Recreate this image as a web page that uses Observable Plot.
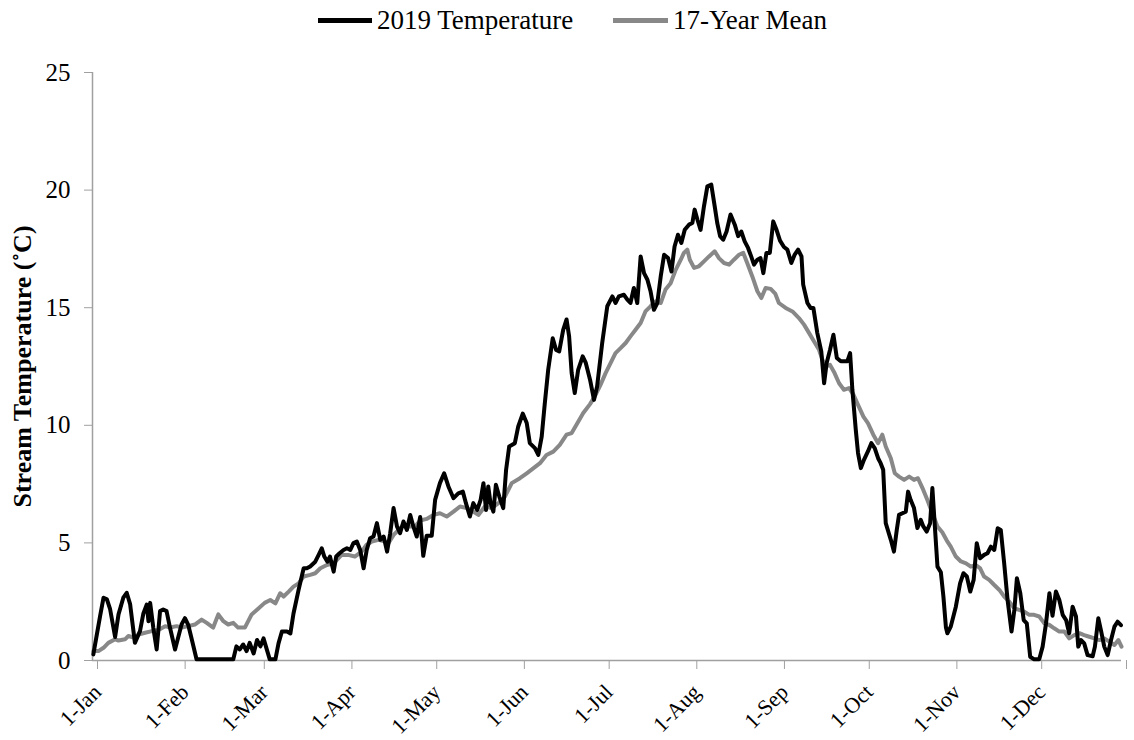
<!DOCTYPE html>
<html><head><meta charset="utf-8">
<script src="https://cdn.jsdelivr.net/npm/d3@7"></script>
<script src="https://cdn.jsdelivr.net/npm/@observablehq/plot@0.6"></script>
<style>
body{margin:0;background:#fff;font-family:"Liberation Serif","Times New Roman",serif;}
#legend{position:relative;height:40px;width:1134px;}
.item{position:absolute;top:0;height:40px;display:flex;align-items:center;font-size:27px;color:#000;white-space:nowrap;}
.sw{display:inline-block;height:5px;margin-right:5px;}
</style></head><body>
<div id="legend"></div>
<div id="chart"></div>
<script>
// x positions: day of year 2019, 0 = 1-Jan
const monthStarts = [0, 31, 59, 90, 120, 151, 181, 212, 243, 273, 304, 334, 364];
const monthLabels = ["1-Jan","1-Feb","1-Mar","1-Apr","1-May","1-Jun","1-Jul","1-Aug","1-Sep","1-Oct","1-Nov","1-Dec",""];
const yTicks = [0, 5, 10, 15, 20, 25];
const seriesNames = ["2019 Temperature", "17-Year Mean"];

const tempDays = [0.3,2.7,3.9,5.1,6.2,8.0,9.2,10.9,12.1,13.3,15.0,16.8,18.0,19.2,19.8,20.4,21.5,22.7,23.9,25.0,26.2,27.4,29.2,31.5,32.7,33.9,35.0,36.8,49.8,50.9,52.1,53.3,54.5,55.6,57.0,58.2,59.4,60.5,61.7,62.7,64.7,65.8,67.0,68.8,70.0,71.1,72.9,74.7,75.8,77.0,78.8,80.0,81.1,82.0,83.1,84.0,85.3,86.2,87.4,88.8,90.0,91.2,92.3,93.5,94.7,95.9,97.0,98.2,99.4,100.6,101.8,103.0,104.2,105.3,106.5,107.7,108.8,110.0,111.2,112.4,113.5,114.7,115.9,117.0,118.2,120.0,121.2,122.9,124.4,125.9,127.7,129.4,131.0,132.1,133.5,134.7,136.1,137.3,138.3,139.2,140.0,140.8,141.8,142.7,143.9,145.3,146.3,147.4,149.4,150.6,152.2,153.6,154.7,156.5,157.7,158.9,160.0,161.2,162.8,164.0,165.1,166.5,167.7,168.6,169.5,170.6,171.8,173.4,174.5,176.0,177.4,178.5,180.3,182.1,183.9,185.0,186.2,188.0,189.2,190.3,191.5,192.7,193.9,195.1,196.3,197.4,198.6,199.8,201.0,202.2,203.6,204.8,205.9,207.1,208.3,209.5,211.0,212.2,213.0,214.0,215.1,216.3,217.5,218.9,220.1,221.0,222.0,223.1,224.3,225.7,227.2,228.4,229.5,230.7,231.9,233.0,234.0,235.2,236.3,237.3,238.4,239.6,240.8,242.0,243.2,244.6,245.8,247.2,248.4,249.6,250.8,251.4,252.9,254.0,255.0,256.4,257.8,258.8,259.7,260.9,262.1,263.3,264.7,266.1,267.0,268.0,268.8,270.0,270.8,271.8,272.9,274.3,275.5,276.7,277.9,278.8,279.7,280.6,282.4,283.5,284.5,285.3,286.5,287.7,288.5,289.4,290.6,291.8,293.0,293.9,295.1,296.3,297.1,297.9,298.9,300.1,301.0,301.9,302.4,303.6,305.4,306.9,308.1,309.3,310.5,311.7,312.8,314.0,315.4,316.6,317.8,319.0,320.2,321.3,322.5,323.7,325.1,326.1,327.0,328.2,329.4,330.5,331.7,333.1,334.9,336.1,337.3,338.5,339.6,340.8,342.0,343.2,344.4,345.5,346.7,347.9,348.7,349.7,350.8,352.0,353.8,354.6,355.8,356.7,357.9,359.1,360.3,361.5,362.6,363.8];
const tempValues = [0.26,1.9,2.67,2.6,2.2,1.0,1.96,2.67,2.88,2.4,0.75,1.25,2.0,2.38,1.67,2.45,1.4,0.47,2.1,2.17,2.1,1.4,0.47,1.53,1.8,1.5,0.96,0.05,0.05,0.6,0.47,0.68,0.4,0.75,0.3,0.87,0.6,0.94,0.45,0.05,0.05,0.73,1.23,1.23,1.15,2.0,3.0,3.92,3.92,4.0,4.2,4.49,4.77,4.42,4.2,4.42,3.78,4.42,4.56,4.7,4.77,4.7,4.99,5.06,4.7,3.92,4.7,5.2,5.27,5.84,5.13,5.27,4.63,5.41,6.48,5.7,5.41,5.91,5.55,6.19,5.7,5.27,6.1,4.45,5.3,5.3,6.83,7.54,7.96,7.4,6.9,7.11,7.18,6.69,6.12,6.69,6.4,6.83,7.54,6.4,7.4,6.69,6.33,7.47,6.97,6.48,8.1,9.1,9.24,9.95,10.5,10.1,9.24,9.03,8.74,9.52,10.94,12.36,13.7,13.2,13.14,14.06,14.5,13.78,12.22,11.37,12.36,12.93,12.65,11.94,11.08,11.65,13.5,15.06,15.48,15.2,15.48,15.55,15.34,15.2,15.84,15.2,17.18,16.47,16.19,15.7,14.91,15.2,16.33,17.25,17.11,16.54,17.6,18.1,17.75,18.31,18.53,18.6,19.17,18.74,18.31,19.31,20.16,20.23,19.31,18.6,18.04,17.89,18.24,18.96,18.53,18.04,18.24,17.82,17.54,17.18,16.83,17.04,17.11,16.47,17.33,17.33,18.67,18.3,17.85,17.58,17.47,16.9,17.26,17.47,17.18,15.98,15.2,14.99,14.99,13.92,13.14,11.79,12.65,13.21,13.85,12.86,12.72,12.72,12.72,13.07,11.51,9.81,8.82,8.18,8.53,8.89,9.24,9.03,8.6,8.39,8.11,5.84,5.13,4.63,5.55,6.19,6.26,6.33,7.18,6.83,6.48,5.63,5.98,5.7,5.48,5.84,7.33,5.84,3.99,3.75,2.72,1.4,1.16,1.44,2.29,3.28,3.71,3.57,2.93,3.43,4.99,4.35,4.49,4.56,4.84,4.7,5.62,5.55,4.13,2.57,1.23,2.15,3.5,2.86,1.72,1.58,0.16,0.05,0.05,0.59,1.58,2.86,1.9,2.93,2.57,1.94,1.72,1.16,2.29,1.87,0.59,0.87,0.73,0.23,0.18,0.59,1.8,1.3,0.59,0.23,0.87,1.44,1.65,1.5];

const meanDays = [0.3,2.1,3.9,5.6,8.0,9.2,11.5,12.7,14.5,16.3,18.6,21.0,23.3,25.7,27.4,29.8,31.5,33.9,36.2,38.6,40.4,42.7,44.5,46.3,48.0,49.8,51.5,53.9,56.3,58.6,60.9,62.9,64.7,66.4,67.6,69.4,71.1,72.9,74.7,77.0,78.8,80.6,82.9,85.3,88.1,90.4,92.8,95.2,96.9,98.8,101.2,103.5,104.7,106.5,108.3,110.0,111.8,114.1,115.9,118.2,120.6,122.9,125.3,127.7,130.0,132.4,134.7,136.5,138.8,141.2,143.6,145.9,148.3,151.2,153.6,155.9,158.3,160.6,163.0,165.3,167.7,169.5,171.2,173.6,176.0,178.0,179.7,181.5,183.3,185.0,186.8,188.6,190.3,192.1,193.9,195.6,197.4,199.2,201.0,202.7,204.5,206.3,208.1,209.2,210.4,211.3,212.8,214.5,216.3,218.1,220.1,221.6,223.4,225.2,226.9,228.7,230.2,231.6,233.4,235.2,236.6,238.1,239.9,241.5,242.8,245.2,247.6,249.9,251.7,253.5,255.2,257.0,258.2,259.4,260.9,262.5,264.1,265.8,267.6,269.2,270.8,272.7,274.3,276.2,277.9,279.4,280.6,282.4,283.8,285.3,287.1,288.9,290.6,292.0,293.6,295.3,297.1,298.9,300.6,302.2,303.6,305.4,307.2,309.0,310.7,312.5,314.0,315.4,317.2,319.0,320.8,322.5,324.3,326.1,327.8,329.6,331.4,333.1,334.9,336.7,338.5,340.2,342.0,343.8,345.5,347.3,349.1,350.8,352.6,354.4,356.2,357.9,359.7,361.5,362.9,364.0];
const meanValues = [0.4,0.4,0.54,0.75,0.9,0.85,0.9,1.04,0.98,1.1,1.18,1.25,1.3,1.46,1.4,1.46,1.4,1.46,1.53,1.74,1.6,1.4,1.96,1.67,1.53,1.6,1.4,1.4,1.96,2.2,2.45,2.57,2.43,2.86,2.72,2.93,3.14,3.28,3.57,3.64,3.71,3.92,4.06,4.13,4.49,4.49,4.42,4.63,4.91,5.06,5.13,5.06,4.99,5.34,5.55,5.77,5.7,5.7,5.95,6.02,6.19,6.26,6.12,6.33,6.55,6.48,6.33,6.19,6.55,6.48,6.69,6.97,7.54,7.75,7.96,8.17,8.39,8.74,8.88,9.17,9.6,9.67,10.02,10.52,10.9,11.3,11.72,12.22,12.65,13.07,13.28,13.5,13.78,14.06,14.35,14.84,15.06,15.27,15.2,15.77,16.04,16.61,17.04,17.33,17.47,17.04,16.69,16.76,16.97,17.18,17.4,17.11,16.9,16.83,17.04,17.25,17.33,16.9,16.33,15.7,15.41,15.84,15.8,15.6,15.2,14.99,14.84,14.56,14.28,13.92,13.57,13.21,12.79,12.5,12.57,12.22,11.79,11.51,11.58,11.3,10.87,10.37,10.09,9.6,9.24,9.6,9.1,8.6,7.96,7.82,7.68,7.82,7.68,7.75,7.33,6.83,6.26,5.7,5.45,5.1,4.84,4.42,4.21,4.13,3.99,4.06,3.92,3.57,3.43,3.21,3.0,2.72,2.5,2.22,2.15,2.08,1.94,1.94,1.87,1.58,1.51,1.37,1.23,1.23,0.94,1.08,1.16,1.08,1.01,0.94,0.87,0.94,0.8,0.66,0.87,0.59];

const temp = tempDays.map((d, i) => ({day: d, value: tempValues[i]}));
const mean = meanDays.map((d, i) => ({day: d, value: meanValues[i]}));
const labelByDay = new Map(monthStarts.map((d, i) => [d, monthLabels[i]]));

const BLACK = "#000000", GRAY = "#888888", AXIS = "#a0a0a0";

// legend
const legend = document.getElementById("legend");
[[seriesNames[0], BLACK, 318, 54], [seriesNames[1], GRAY, 613, 55]].forEach(([name, col, left, w]) => {
  const it = document.createElement("div");
  it.className = "item";
  it.style.left = left + "px";
  const sw = document.createElement("span");
  sw.className = "sw"; sw.style.width = w + "px"; sw.style.background = col;
  it.appendChild(sw);
  it.appendChild(document.createTextNode(name));
  legend.appendChild(it);
});

const chart = Plot.plot({
  width: 1134,
  height: 700,
  marginLeft: 92,
  marginRight: 13,
  marginTop: 32,
  marginBottom: 80,
  style: {fontFamily: '"Liberation Serif","Times New Roman",serif', fontSize: "24px", color: "#000", background: "#fff"},
  x: {domain: [0, 364]},
  y: {domain: [0, 25]},
  marks: [
    Plot.ruleX([0], {stroke: AXIS, strokeWidth: 1.5}),
    Plot.ruleY([0], {stroke: AXIS, strokeWidth: 1.5}),
    Plot.axisY({ticks: yTicks, tickSize: 8, tickPadding: 14, stroke: AXIS, fontSize: 25, label: null}),
    Plot.axisX({ticks: monthStarts, tickFormat: d => labelByDay.get(d), tickSize: 9, tickPadding: 19, tickRotate: -45, stroke: AXIS, fontSize: 22, dx: 5, label: null}),
    Plot.text(["Stream Temperature (˚C)"], {frameAnchor: "left", textAnchor: "middle", rotate: -90, dx: -70, fontSize: 26, fontWeight: "bold", fill: "#000"}),
    Plot.line(mean, {x: "day", y: "value", stroke: GRAY, strokeWidth: 4, strokeLinejoin: "round"}),
    Plot.line(temp, {x: "day", y: "value", stroke: BLACK, strokeWidth: 4, strokeLinejoin: "round"})
  ]
});
document.getElementById("chart").appendChild(chart);
</script>
</body></html>
